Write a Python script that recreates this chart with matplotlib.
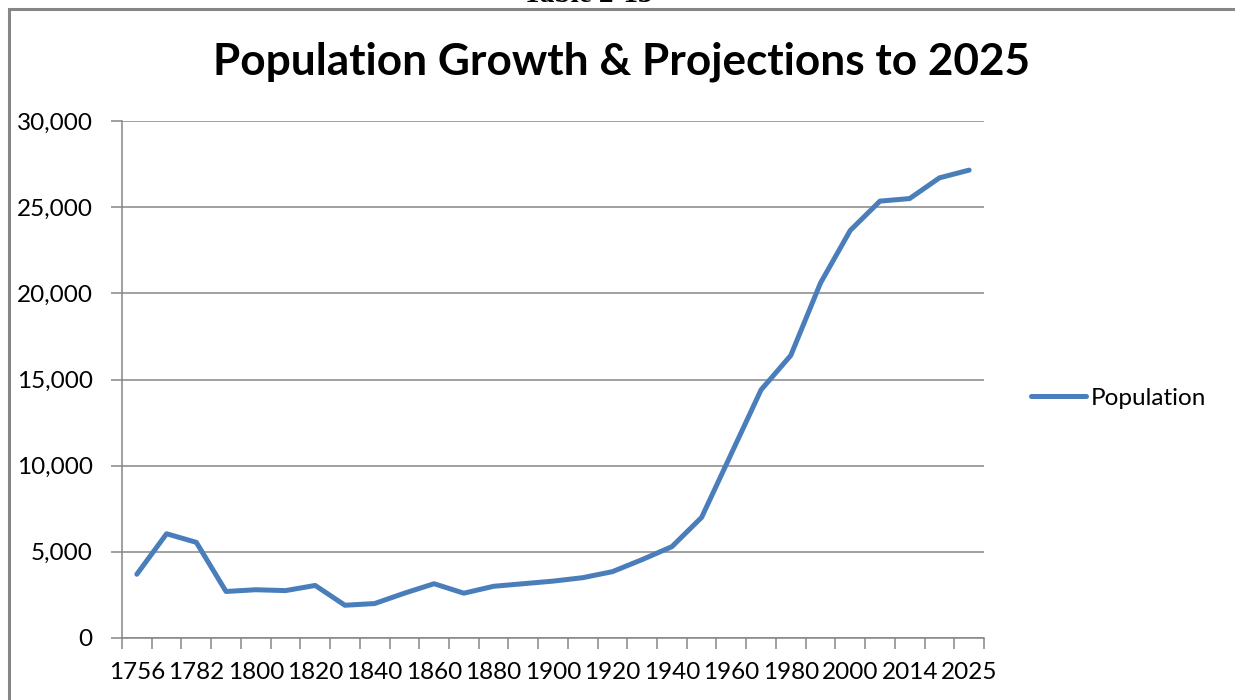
import matplotlib
matplotlib.use("Agg")
import matplotlib.pyplot as plt
from matplotlib.patches import Rectangle
from matplotlib.ticker import FuncFormatter

plt.rcParams["font.family"] = ["Lato", "DejaVu Sans"]

# categories (one per data point), only every second one is labelled
years = ["1756", "1770", "1782", "1790", "1800", "1810", "1820", "1830",
         "1840", "1850", "1860", "1870", "1880", "1890", "1900", "1910",
         "1920", "1930", "1940", "1950", "1960", "1970", "1980", "1990",
         "2000", "2010", "2014", "2020", "2025"]
population = [3700, 6050, 5550, 2700, 2800, 2750, 3050, 1900,
              2000, 2600, 3150, 2600, 3000, 3150, 3300, 3500,
              3850, 4550, 5300, 7000, 10700, 14400, 16400, 20600,
              23650, 25350, 25500, 26700, 27150]
y_ticks = [0, 5000, 10000, 15000, 20000, 25000, 30000]

W, H = 1235, 700
fig = plt.figure(figsize=(W / 100, H / 100), dpi=100)
ax = fig.add_axes([122 / W, 1 - 638 / H, (984 - 122) / W, (638 - 121) / H])

grey = "#868686"
fs = 17.5
x = list(range(len(years)))
line, = ax.plot(x, population, color="#4a7ebb", linewidth=3.6,
                solid_capstyle="round", solid_joinstyle="round",
                label="Population", zorder=3)

ax.set_xlim(-0.5, len(years) - 0.5)
ax.set_ylim(0, 30000)
ax.set_yticks(y_ticks)
ax.yaxis.set_major_formatter(FuncFormatter(lambda v, p: f"{int(v):,}"))
ax.grid(axis="y", color=grey, linewidth=1.1)
ax.set_axisbelow(True)

# tick marks on category boundaries, labels at centres
ax.set_xticks([i - 0.5 for i in range(len(years) + 1)])
ax.set_xticklabels([])
ax.set_xticks(x[::2], minor=True)
ax.set_xticklabels(years[::2], minor=True)
ax.tick_params(axis="x", which="major", length=8, width=1.1, color=grey)
ax.tick_params(axis="x", which="minor", length=0, pad=17, labelsize=fs)
ax.tick_params(axis="y", length=8, width=1.1, color=grey, pad=13, labelsize=fs)

for side in ["top", "right"]:
    ax.spines[side].set_visible(False)
for side in ["left", "bottom"]:
    ax.spines[side].set_color(grey)
    ax.spines[side].set_linewidth(1.1)

fig.text(622 / W, 1 - 62 / H, "Population Growth & Projections to 2025",
         ha="center", va="center", fontsize=31.8, fontweight="bold")

fig.legend(handles=[line], loc="center left", bbox_to_anchor=(1031 / W, 1 - 398 / H),
           frameon=False, fontsize=fs, handlelength=2.25, handletextpad=0.2,
           borderpad=0, borderaxespad=0)

# outer chart frame and the caption above it, cut off by the page edge
fig.patches.append(Rectangle((9 / W, -0.1), 1.2, 1 - 9 / H + 0.1,
                             transform=fig.transFigure, fill=False,
                             edgecolor=grey, linewidth=2.2))
fig.text(588 / W, 1 - 1.5 / H, "Table 2-13", ha="center", va="baseline",
         fontsize=21, fontweight="bold", family="Liberation Serif")

fig.savefig("out.png", dpi=100)
